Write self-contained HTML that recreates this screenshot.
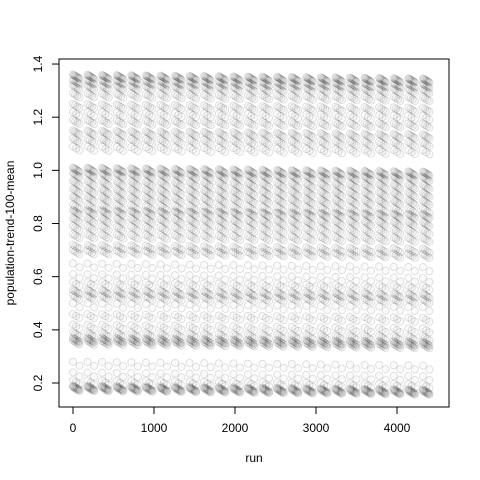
<!DOCTYPE html>
<html><head><meta charset="utf-8"><style>body{margin:0;background:#fff}svg{display:block;font-family:"Liberation Sans",sans-serif}</style></head>
<body>
<svg id="c" width="480" height="480">
<rect x="59" y="59" width="390" height="348" fill="none" stroke="#000"/>
<g id="pts"></g>
<g id="ax"></g>
<text x="254" y="462" text-anchor="middle" font-size="12">run</text>
<text transform="translate(14,233) rotate(-90)" text-anchor="middle" font-size="12">population-trend-100-mean</text>
</svg>
<script>
const xTicks=[0,1000,2000,3000,4000];
const yTicks=[0.2,0.4,0.6,0.8,1.0,1.2,1.4];
const levels=[1.36,1.34,1.32,1.29,1.25,1.22,1.19,1.15,1.12,1.09,1.01,0.99,0.96,0.93,0.90,0.87,0.85,0.82,0.79,0.76,0.72,0.70,0.65,0.61,0.58,0.55,0.53,0.50,0.46,0.42,0.39,0.37,0.36,0.28,0.24,0.21,0.19,0.185];
const counts=[8,6,5,4,4,3,4,5,4,3,7,6,5,5,5,4,6,5,4,4,4,4,2,2,3,5,4,2,3,3,4,6,5,2,2,3,6,6];
const groupSize=180, nRuns=4500;
const X=v=>73+v*0.081, Y=v=>383-(v-0.2)*265.8;
const ns="http://www.w3.org/2000/svg";
const ax=document.getElementById('ax'), pts=document.getElementById('pts');
function mk(t,a,p){const e=document.createElementNS(ns,t);for(const k in a)e.setAttribute(k,a[k]);p.appendChild(e);return e;}
xTicks.forEach(t=>{const l=mk('line',{x1:X(t),x2:X(t),y1:407,y2:414,stroke:'#000'},ax);


const tx=mk('text',{x:X(t),y:432,'text-anchor':'middle','font-size':12},ax);tx.textContent=t;

});
mk('line',{x1:X(0),x2:X(4000),y1:407,y2:407,stroke:'#000'},ax);
yTicks.forEach(t=>{const l=mk('line',{x1:52,x2:59,y1:Y(t),y2:Y(t),stroke:'#000'},ax);


const tx=mk('text',{transform:`translate(42,${Y(t)}) rotate(-90)`,'text-anchor':'middle','font-size':12},ax);tx.textContent=t.toFixed(1);

});
mk('line',{x1:59,x2:59,y1:Y(0.2),y2:Y(1.4),stroke:'#000'},ax);
const seq=[];levels.forEach((v,i)=>{for(let k=0;k<counts[i];k++)seq.push({v,k,n:counts[i]});});
for(let r=0;r<nRuns;r++){
 const g=Math.floor(r/groupSize), p=r%groupSize;
 if(p>=seq.length) continue;
 const s=seq[p];
 const y=s.v-0.015*s.k/Math.max(1,s.n-1)-g*0.0006;
 const xr=g*groupSize+(s.k/Math.max(1,s.n-1))*80;
 const c=mk('circle',{cx:X(xr),cy:Y(y),r:3.6,fill:'rgba(0,0,0,0.02)',stroke:'rgba(0,0,0,0.14)','stroke-width':0.8},pts);
 
 
}
</script>
</body></html>
